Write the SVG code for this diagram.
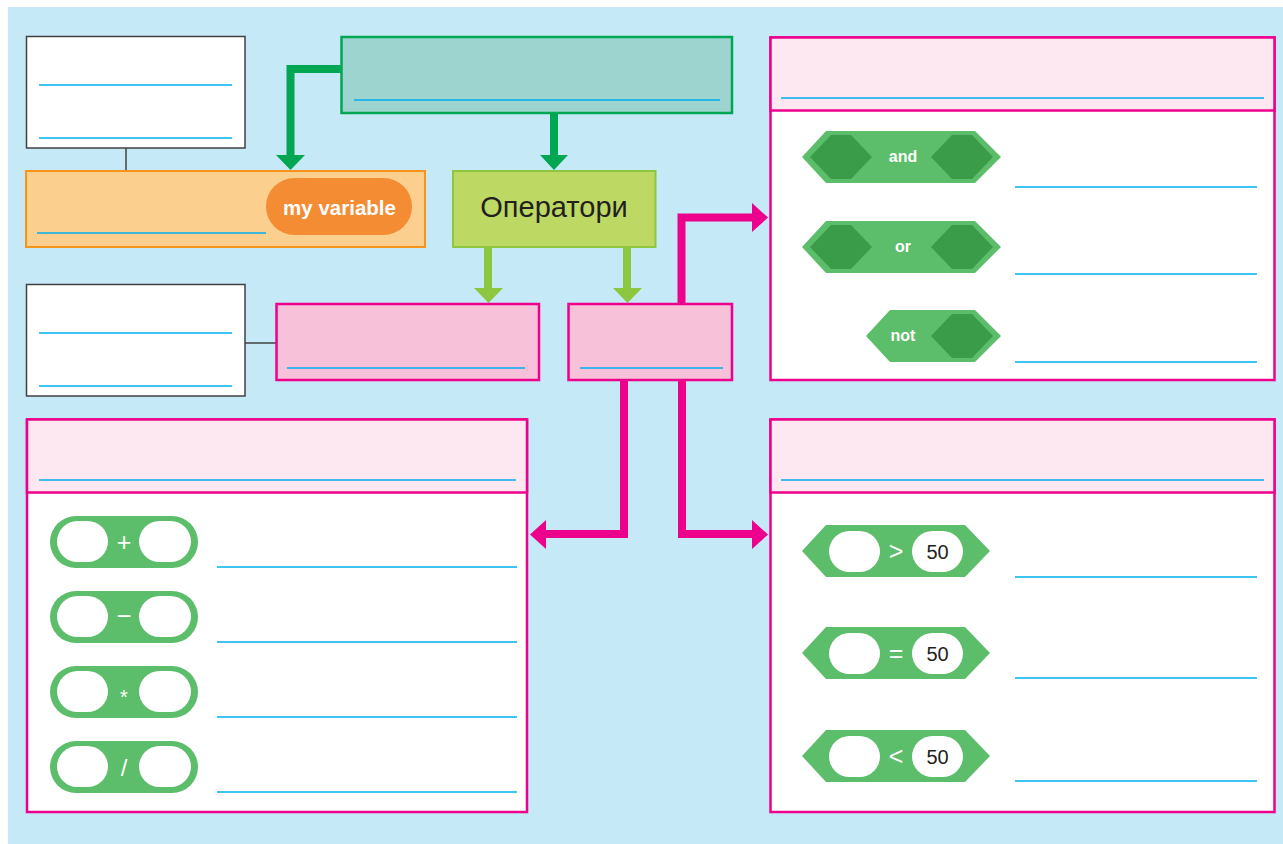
<svg xmlns="http://www.w3.org/2000/svg" width="1283" height="844" viewBox="0 0 1283 844">
<defs>
<style>
.bg{fill:#c6e9f8}
.note{fill:#ffffff;stroke:#404041;stroke-width:1.5}
.ln{stroke:#00aeef;stroke-width:1.3;fill:none}
.pink{fill:#f6c1d9;stroke:#ec008c;stroke-width:2.5}
.panel{fill:#ffffff;stroke:#ec008c;stroke-width:2.5}
.phead{fill:#fde8f1;stroke:#ec008c;stroke-width:2.5}
.blk{fill:#5cbd6a}
.dark{fill:#3a9b48}
.wpill{fill:#ffffff}
.t{font-family:"Liberation Sans",Arial,sans-serif}
.bt{font-family:"Liberation Sans",Arial,sans-serif;font-weight:bold;fill:#ffffff;font-size:16px;text-anchor:middle}
.op{font-family:"Liberation Sans",Arial,sans-serif;fill:#ffffff;text-anchor:middle}
.num{font-family:"Liberation Sans",Arial,sans-serif;fill:#231f20;font-size:20px;text-anchor:middle}
.cg{stroke:#404041;stroke-width:1.5;fill:none}
.cdg{stroke:#00a651;stroke-width:8;fill:none}
.clg{stroke:#8dc63f;stroke-width:8;fill:none}
.cpk{stroke:#ec008c;stroke-width:8;fill:none}
</style>
</defs>
<rect class="bg" x="8" y="7" width="1275" height="837"/>

<g id="connectors">
<line class="cg" x1="126" y1="148" x2="126" y2="171"/>
<line class="cg" x1="245" y1="343" x2="276" y2="343"/>
<polyline class="cdg" points="341,69 290.5,69 290.5,156"/>
<polygon fill="#00a651" points="276,155 305,155 290.5,170"/>
<line class="cdg" x1="554" y1="113" x2="554" y2="156"/>
<polygon fill="#00a651" points="540,155 568,155 554,170"/>
<line class="clg" x1="488" y1="247" x2="488" y2="289"/>
<polygon fill="#8dc63f" points="474,288 503,288 488.5,303"/>
<line class="clg" x1="627" y1="247" x2="627" y2="289"/>
<polygon fill="#8dc63f" points="613,288 642,288 627.5,303"/>
<polyline class="cpk" points="681.5,303 681.5,217.5 753,217.5"/>
<polygon fill="#ec008c" points="752,203 768,217.5 752,232"/>
<polyline class="cpk" points="624,380 624,534 545,534"/>
<polygon fill="#ec008c" points="546,520 530,534.5 546,549"/>
<polyline class="cpk" points="682,380 682,534 753,534"/>
<polygon fill="#ec008c" points="752,520 768,534.5 752,549"/>
</g>

<g id="note1">
<rect class="note" x="26.5" y="36.5" width="218.5" height="111.5"/>
<line class="ln" x1="39" y1="85" x2="232" y2="85"/>
<line class="ln" x1="39" y1="138" x2="232" y2="138"/>
</g>

<g id="note2">
<rect class="note" x="26.5" y="284.5" width="218.5" height="111.5"/>
<line class="ln" x1="39" y1="333" x2="232" y2="333"/>
<line class="ln" x1="39" y1="386" x2="232" y2="386"/>
</g>

<g id="variable">
<rect x="26" y="171" width="399" height="76" fill="#fbd08f" stroke="#f7941d" stroke-width="2"/>
<line class="ln" x1="37" y1="233" x2="266" y2="233"/>
<rect x="266" y="178" width="146" height="57" rx="28.5" fill="#f48c33"/>
<text class="t" x="339.5" y="215" font-size="20.5" font-weight="bold" fill="#ffffff" text-anchor="middle">my variable</text>
</g>

<g id="top">
<rect x="341.5" y="37" width="390.5" height="76" fill="#9dd4cf" stroke="#00a651" stroke-width="2.5"/>
<line class="ln" x1="354" y1="100" x2="720" y2="100"/>
</g>

<g id="operators">
<rect x="453" y="171" width="202.5" height="76" fill="#bed963" stroke="#8dc63f" stroke-width="2"/>
<text class="t" x="554" y="217" font-size="29" fill="#231f20" text-anchor="middle">Оператори</text>
</g>

<g id="pink1">
<rect class="pink" x="276.5" y="304" width="262.5" height="76"/>
<line class="ln" x1="287" y1="368" x2="525" y2="368"/>
</g>

<g id="pink2">
<rect class="pink" x="568.5" y="304" width="163.5" height="76"/>
<line class="ln" x1="580" y1="368" x2="723" y2="368"/>
</g>

<g id="logic">
<rect class="panel" x="770.5" y="37.5" width="504" height="342.5"/>
<rect class="phead" x="770.5" y="37.5" width="504" height="73"/>
<line class="ln" x1="781" y1="98" x2="1264" y2="98"/>
<polygon class="blk" points="802,157 826,131 975,131 1001,157 975,183 826,183"/>
<polygon class="dark" points="810,157 831,135 851,135 872,157 851,179 831,179"/>
<polygon class="dark" points="931,157 952,135 972,135 993,157 972,179 952,179"/>
<text class="bt" x="903" y="162">and</text>
<line class="ln" x1="1015" y1="187" x2="1257" y2="187"/>
<polygon class="blk" points="802,247 826,221 975,221 1001,247 975,273 826,273"/>
<polygon class="dark" points="810,247 831,225 851,225 872,247 851,269 831,269"/>
<polygon class="dark" points="931,247 952,225 972,225 993,247 972,269 952,269"/>
<text class="bt" x="903" y="252">or</text>
<line class="ln" x1="1015" y1="274" x2="1257" y2="274"/>
<polygon class="blk" points="866,336 890,310 975,310 1001,336 975,362 890,362"/>
<polygon class="dark" points="931,336 952,314 972,314 993,336 972,358 952,358"/>
<text class="bt" x="903" y="341">not</text>
<line class="ln" x1="1015" y1="362" x2="1257" y2="362"/>
</g>

<g id="arith">
<rect class="panel" x="27" y="419.5" width="500" height="392.5"/>
<rect class="phead" x="27" y="419.5" width="500" height="73"/>
<line class="ln" x1="39" y1="480" x2="516" y2="480"/>
<g>
<rect class="blk" x="50" y="516" width="148" height="52" rx="26"/>
<rect class="wpill" x="57" y="521" width="51" height="41" rx="20.5"/>
<rect class="wpill" x="139" y="521" width="52" height="41" rx="20.5"/>
<text class="op" x="124" y="551" font-size="25">+</text>
</g>
<line class="ln" x1="217" y1="567" x2="517" y2="567"/>
<g>
<rect class="blk" x="50" y="591" width="148" height="52" rx="26"/>
<rect class="wpill" x="57" y="596" width="51" height="41" rx="20.5"/>
<rect class="wpill" x="139" y="596" width="52" height="41" rx="20.5"/>
<text class="op" x="124" y="625" font-size="26">−</text>
</g>
<line class="ln" x1="217" y1="642" x2="517" y2="642"/>
<g>
<rect class="blk" x="50" y="666" width="148" height="52" rx="26"/>
<rect class="wpill" x="57" y="671" width="51" height="41" rx="20.5"/>
<rect class="wpill" x="139" y="671" width="52" height="41" rx="20.5"/>
<text class="op" x="124" y="704" font-size="20">*</text>
</g>
<line class="ln" x1="217" y1="717" x2="517" y2="717"/>
<g>
<rect class="blk" x="50" y="741" width="148" height="52" rx="26"/>
<rect class="wpill" x="57" y="746" width="51" height="41" rx="20.5"/>
<rect class="wpill" x="139" y="746" width="52" height="41" rx="20.5"/>
<text class="op" x="124" y="776" font-size="24">/</text>
</g>
<line class="ln" x1="217" y1="792" x2="517" y2="792"/>
</g>

<g id="compare">
<rect class="panel" x="770.5" y="419.5" width="504" height="392.5"/>
<rect class="phead" x="770.5" y="419.5" width="504" height="73"/>
<line class="ln" x1="781" y1="480" x2="1264" y2="480"/>
<g>
<polygon class="blk" points="802,551 826,525 965,525 990,551 965,577 826,577"/>
<rect class="wpill" x="829" y="531" width="51" height="41" rx="20.5"/>
<rect class="wpill" x="912" y="531" width="51" height="41" rx="20.5"/>
<text class="op" x="896" y="560" font-size="25">&gt;</text>
<text class="num" x="937.5" y="558.5">50</text>
</g>
<line class="ln" x1="1015" y1="577" x2="1257" y2="577"/>
<g>
<polygon class="blk" points="802,653 826,627 965,627 990,653 965,679 826,679"/>
<rect class="wpill" x="829" y="633" width="51" height="41" rx="20.5"/>
<rect class="wpill" x="912" y="633" width="51" height="41" rx="20.5"/>
<text class="op" x="896" y="662" font-size="25">=</text>
<text class="num" x="937.5" y="660.5">50</text>
</g>
<line class="ln" x1="1015" y1="678" x2="1257" y2="678"/>
<g>
<polygon class="blk" points="802,756 826,730 965,730 990,756 965,782 826,782"/>
<rect class="wpill" x="829" y="736" width="51" height="41" rx="20.5"/>
<rect class="wpill" x="912" y="736" width="51" height="41" rx="20.5"/>
<text class="op" x="896" y="765" font-size="25">&lt;</text>
<text class="num" x="937.5" y="763.5">50</text>
</g>
<line class="ln" x1="1015" y1="781" x2="1257" y2="781"/>
</g>
</svg>
